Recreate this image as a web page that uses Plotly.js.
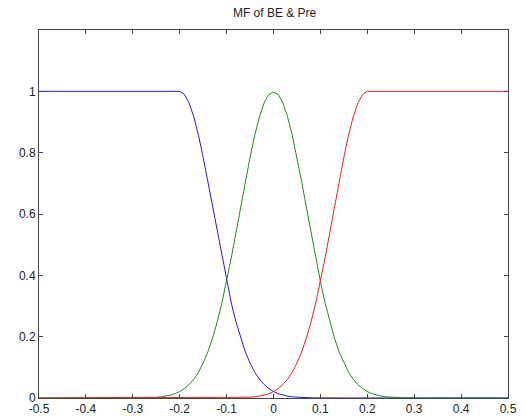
<!DOCTYPE html>
<html>
<head>
<meta charset="utf-8">
<script src="https://cdn.plot.ly/plotly-3.0.1.min.js"></script>
<style>html,body{margin:0;padding:0;background:#fff;}#chart{width:525px;height:418px;}</style>
</head>
<body>
<div id="chart"></div>
<script>
var titleText = "MF of BE & Pre";
var xValues = [-0.5, -0.3, -0.29, -0.28, -0.27, -0.26, -0.25, -0.24, -0.23, -0.22, -0.21,
               -0.2, -0.19, -0.18, -0.17, -0.16, -0.15, -0.14, -0.13, -0.12, -0.11,
               -0.1, -0.09, -0.08, -0.07, -0.06, -0.05, -0.04, -0.03, -0.02, -0.01,
               0, 0.01, 0.02, 0.03, 0.04, 0.05, 0.06, 0.07, 0.08, 0.09,
               0.1, 0.11, 0.12, 0.13, 0.14, 0.15, 0.16, 0.17, 0.18, 0.19,
               0.2, 0.21, 0.22, 0.23, 0.24, 0.25, 0.26, 0.27, 0.28, 0.29, 0.3, 0.5];
var blueValues = [1, 1, 1, 1, 1, 1, 1, 1, 1, 1, 1,
                  1, 0.990, 0.962, 0.917, 0.857, 0.785, 0.706, 0.623, 0.539, 0.457,
                  0.380, 0.310, 0.248, 0.195, 0.150, 0.114, 0.084, 0.061, 0.044, 0.031,
                  0.021, 0.014, 0.0093, 0.0060, 0.0038, 0.0024, 0.0014, 0.0009, 0.0005, 0.0003,
                  0.0002, 0, 0, 0, 0, 0, 0, 0, 0, 0,
                  0, 0, 0, 0, 0, 0, 0, 0, 0, 0, 0, 0];
var greenValues = [0, 0.0002, 0.0003, 0.0005, 0.0009, 0.0014, 0.0024, 0.0038, 0.0060, 0.0093, 0.014,
                   0.021, 0.031, 0.044, 0.061, 0.084, 0.114, 0.150, 0.195, 0.248, 0.310,
                   0.380, 0.457, 0.539, 0.623, 0.706, 0.785, 0.857, 0.917, 0.962, 0.990,
                   0.997, 0.990, 0.962, 0.917, 0.857, 0.785, 0.706, 0.623, 0.539, 0.457,
                   0.380, 0.310, 0.248, 0.195, 0.150, 0.114, 0.084, 0.061, 0.044, 0.031,
                   0.021, 0.014, 0.0093, 0.0060, 0.0038, 0.0024, 0.0014, 0.0009, 0.0005, 0.0003, 0.0002, 0];
var redValues = [0, 0, 0, 0, 0, 0, 0, 0, 0, 0, 0,
                 0, 0, 0, 0, 0, 0, 0, 0, 0, 0,
                 0.0002, 0.0003, 0.0005, 0.0009, 0.0014, 0.0024, 0.0038, 0.0060, 0.0093, 0.014,
                 0.021, 0.031, 0.044, 0.061, 0.084, 0.114, 0.150, 0.195, 0.248, 0.310,
                 0.380, 0.457, 0.539, 0.623, 0.706, 0.785, 0.857, 0.917, 0.962, 0.990,
                 1, 1, 1, 1, 1, 1, 1, 1, 1, 1, 1, 1];
var xTickVals = [-0.5, -0.4, -0.3, -0.2, -0.1, 0, 0.1, 0.2, 0.3, 0.4, 0.5];
var xTickText = ["-0.5", "-0.4", "-0.3", "-0.2", "-0.1", "0", "0.1", "0.2", "0.3", "0.4", "0.5"];
var yTickVals = [0, 0.2, 0.4, 0.6, 0.8, 1];
var yTickText = ["0", "0.2", "0.4", "0.6", "0.8", "1"];

var traces = [
  {x: xValues, y: blueValues, type: 'scatter', mode: 'lines', line: {color: '#1c1cd8', width: 1}},
  {x: xValues, y: greenValues, type: 'scatter', mode: 'lines', line: {color: '#1f8a1f', width: 1}},
  {x: xValues, y: redValues, type: 'scatter', mode: 'lines', line: {color: '#ee1f1f', width: 1}}
];
var axisCommon = {
  showgrid: false, zeroline: false, showline: true, linecolor: '#444', linewidth: 1,
  mirror: 'ticks', ticks: 'inside', ticklen: 4, tickcolor: '#444', tickwidth: 1,
  tickfont: {family: 'Liberation Sans, Arial, sans-serif', size: 12, color: '#222'}
};
var layout = {
  width: 525, height: 418,
  margin: {l: 39, r: 17, t: 30, b: 20, pad: 0},
  paper_bgcolor: '#fff', plot_bgcolor: '#fff',
  showlegend: false,
  title: {text: titleText, x: 0.523, xanchor: 'center', y: 0.969, yanchor: 'middle',
          font: {family: 'Liberation Sans, Arial, sans-serif', size: 12, color: '#222'}},
  xaxis: Object.assign({}, axisCommon, {range: [-0.5, 0.5], tickmode: 'array', tickvals: xTickVals, ticktext: xTickText}),
  yaxis: Object.assign({}, axisCommon, {range: [0, 1.2], tickmode: 'array', tickvals: yTickVals, ticktext: yTickText})
};
Plotly.newPlot('chart', traces, layout, {displayModeBar: false, staticPlot: true});
</script>
</body>
</html>
